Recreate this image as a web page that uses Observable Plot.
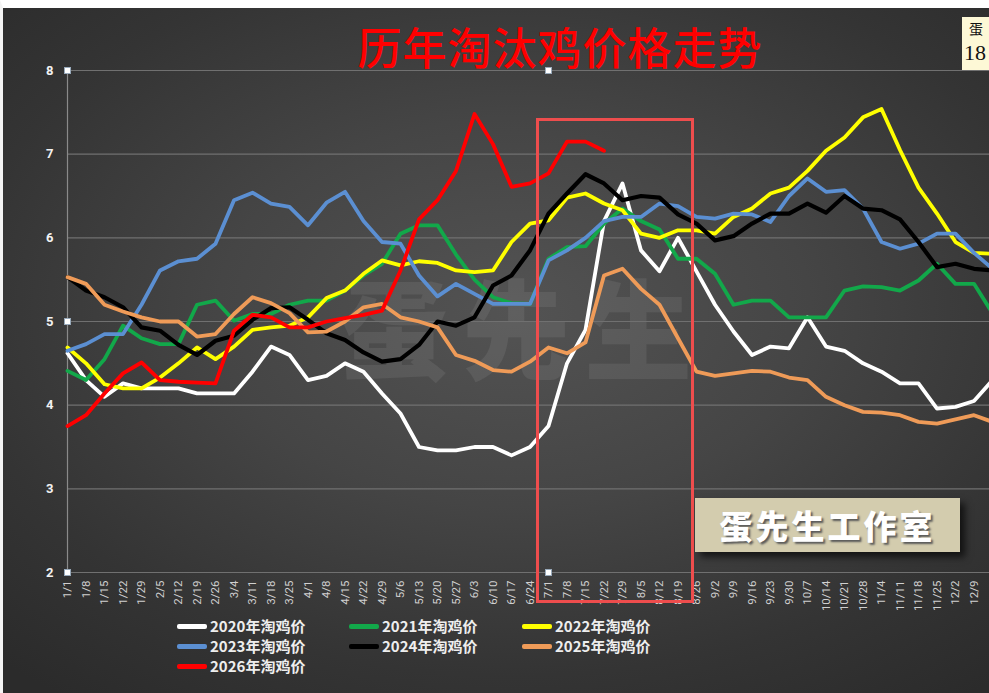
<!DOCTYPE html>
<html><head><meta charset="utf-8">
<script src="https://cdn.jsdelivr.net/npm/d3@7"></script>
<script src="https://cdn.jsdelivr.net/npm/@observablehq/plot@0.6"></script>
<style>
html,body{margin:0;padding:0;width:989px;height:693px;overflow:hidden;}
body{position:relative;background:radial-gradient(ellipse 75% 70% at 52% 45%, #535353 0%, #454545 40%, #343434 75%, #2b2b2b 100%);font-family:"Noto Sans CJK SC","Noto Sans",sans-serif;}
#frame{position:absolute;left:0;top:0;width:989px;height:693px;border-top:8px solid #fff;border-left:3px solid #f4f4f4;box-sizing:border-box;pointer-events:none;z-index:10;}
#title{position:absolute;left:0;width:1120px;top:14px;text-align:center;color:#ff0000;font-size:44px;letter-spacing:1px;font-family:"Noto Sans CJK SC";font-weight:500;}
#watermark{position:absolute;left:340px;top:246px;font-size:108px;font-weight:900;letter-spacing:14px;color:rgba(255,255,255,0.075);font-family:"Noto Sans CJK SC";}
#chart{position:absolute;left:0;top:0;}
#redbox{position:absolute;left:536px;top:118px;width:152px;height:479px;border:3.5px solid #ee4d4d;z-index:5;}
#stamp{position:absolute;left:695px;top:498px;width:265px;height:54px;background:#d3ccae;box-shadow:5px 5px 7px rgba(0,0,0,0.65);text-align:center;line-height:54px;font-size:33px;font-weight:900;color:#ffffff;letter-spacing:3px;text-shadow:2px 2px 2px #5a5a5a;font-family:"Noto Sans CJK SC";z-index:6;}
#corner{position:absolute;left:962px;top:17px;width:27px;height:53px;background:#fdf8d6;color:#111;font-family:"Noto Sans CJK SC",serif;z-index:6;overflow:hidden;}
#corner .a{position:absolute;left:7px;top:1px;font-size:14px;}
#corner .b{position:absolute;left:2px;top:23px;font-size:22px;line-height:26px;font-family:"Liberation Serif",serif;}
.h{position:absolute;width:5px;height:5px;background:#fff;border:1px solid #9ab;z-index:7;}
#legend{position:absolute;left:0;top:0;}
.li{position:absolute;height:20px;line-height:20px;font-size:15px;font-weight:700;color:#eeeeee;white-space:nowrap;}
.li span.sw{display:inline-block;width:30px;height:5px;border-radius:2px;vertical-align:middle;margin-right:3px;position:relative;top:-1px;}
</style></head>
<body>
<div id="frame"></div>
<div id="watermark">蛋先生</div>
<div id="chart"></div>
<div id="title">历年淘汰鸡价格走势</div>
<div id="redbox"></div>
<div id="stamp">蛋先生工作室</div>
<div id="corner"><div class="a">蛋</div><div class="b">18</div></div>
<div id="legend"></div>
<script>
// ---- data ----
const weekLabels = ["1/1","1/8","1/15","1/22","1/29","2/5","2/12","2/19","2/26","3/4","3/11","3/18","3/25","4/1","4/8","4/15","4/22","4/29","5/6","5/13","5/20","5/27","6/3","6/10","6/17","6/24","7/1","7/8","7/15","7/22","7/29","8/5","8/12","8/19","8/26","9/2","9/9","9/16","9/23","9/30","10/7","10/14","10/21","10/28","11/4","11/11","11/18","11/25","12/2","12/9"];
const yTicks = [2,3,4,5,6,7,8];
const seriesNames = ["2020年淘鸡价","2021年淘鸡价","2022年淘鸡价","2023年淘鸡价","2024年淘鸡价","2025年淘鸡价","2026年淘鸡价"];
const seriesColors = ["#ffffff","#12a84a","#ffff00","#5b8fd2","#000000","#ef9b58","#ff0000"];
const s2020 = [4.62,4.3,4.1,4.26,4.2,4.2,4.2,4.14,4.14,4.14,4.4,4.7,4.6,4.3,4.35,4.5,4.4,4.14,3.9,3.5,3.46,3.46,3.5,3.5,3.4,3.5,3.75,4.5,4.9,6.2,6.65,5.85,5.6,6.0,5.6,5.2,4.88,4.6,4.7,4.68,5.05,4.7,4.65,4.5,4.4,4.26,4.26,3.96,3.98,4.05,4.3];
const s2021 = [4.41,4.3,4.55,4.95,4.8,4.73,4.73,5.2,5.25,5.01,5.09,5.09,5.2,5.25,5.25,5.37,5.55,5.69,6.05,6.15,6.15,5.8,5.5,5.29,5.22,5.21,5.75,5.89,5.9,6.17,6.35,6.2,6.1,5.75,5.75,5.57,5.2,5.25,5.25,5.05,5.05,5.05,5.37,5.42,5.41,5.37,5.49,5.69,5.45,5.45,5.1];
const s2022 = [4.69,4.5,4.25,4.2,4.2,4.33,4.5,4.69,4.55,4.7,4.9,4.93,4.95,5.05,5.28,5.37,5.57,5.73,5.67,5.72,5.7,5.61,5.59,5.61,5.95,6.17,6.21,6.48,6.53,6.41,6.33,6.05,6.0,6.09,6.09,6.05,6.25,6.35,6.53,6.6,6.8,7.04,7.2,7.44,7.54,7.05,6.6,6.29,5.95,5.82,5.81];
const s2023 = [4.65,4.73,4.85,4.85,5.2,5.61,5.72,5.75,5.93,6.45,6.54,6.41,6.37,6.15,6.42,6.55,6.2,5.95,5.93,5.55,5.3,5.45,5.33,5.21,5.21,5.21,5.73,5.85,6.0,6.2,6.25,6.25,6.41,6.38,6.25,6.23,6.29,6.28,6.19,6.5,6.71,6.55,6.57,6.35,5.95,5.87,5.93,6.05,6.05,5.82,5.63];
const s2024 = [5.53,5.37,5.29,5.17,4.93,4.89,4.72,4.6,4.77,4.83,5.02,5.16,5.17,5.02,4.86,4.78,4.63,4.52,4.55,4.72,5.0,4.95,5.05,5.43,5.55,5.85,6.29,6.53,6.76,6.65,6.45,6.5,6.48,6.28,6.17,5.97,6.02,6.17,6.29,6.29,6.41,6.3,6.5,6.35,6.33,6.22,5.95,5.65,5.69,5.63,5.61];
const s2025 = [5.53,5.45,5.2,5.12,5.05,5.0,5.0,4.82,4.85,5.09,5.29,5.22,5.1,4.87,4.88,5.0,5.17,5.21,5.05,5.0,4.93,4.6,4.53,4.42,4.4,4.52,4.69,4.62,4.75,5.55,5.63,5.39,5.2,4.8,4.4,4.35,4.38,4.41,4.4,4.33,4.3,4.1,4.0,3.92,3.91,3.88,3.8,3.78,3.83,3.88,3.8];
const s2026 = [3.75,3.88,4.14,4.38,4.51,4.3,4.28,4.27,4.26,4.89,5.08,5.05,4.93,4.93,5.0,5.04,5.08,5.13,5.61,6.22,6.45,6.8,7.48,7.12,6.61,6.65,6.77,7.15,7.15,7.04];
const seriesValues = [s2020,s2021,s2022,s2023,s2024,s2025,s2026];

// ---- chart ----
const lineMarks = seriesValues.map((vals,k) => Plot.line(
  vals.map((v,i) => ({w:i, v})),
  {x:"w", y:"v", stroke:seriesColors[k], strokeWidth: k===4 ? 4.2 : 3.8, strokeLinejoin:"round", strokeLinecap:"round"}
));

const chart = Plot.plot({
  width: 989, height: 693,
  marginTop: 70, marginBottom: 121, marginLeft: 67, marginRight: 0,
  style: {background:"transparent", overflow:"hidden", maxWidth:"none", fontFamily:"Roboto, 'Noto Sans', sans-serif"},
  x: {domain:[0,50], range:[67,992]},
  y: {domain:[2,8], range:[572,70]},
  marks: [
    Plot.ruleY(yTicks, {stroke:"#707070", strokeWidth:1.2}),
    Plot.ruleX([0], {y1:2, y2:8, stroke:"#8a8a8a", strokeWidth:1.2}),
    Plot.axisY(yTicks, {tickSize:0, tickPadding:14, tickFormat:d => String(d), fill:"#f2f2f2", fontSize:13, fontWeight:"bold", label:null}),
    Plot.axisX(d3.range(0, weekLabels.length), {tickSize:0, tickPadding:8, tickRotate:-90, tickFormat:i => weekLabels[i], fill:"#d0d0d0", fontSize:11.5, label:null}),
    ...lineMarks
  ]
});
document.getElementById("chart").appendChild(chart);

// handles
[[67,70],[548,70],[67,321],[67,572],[548,572]].forEach(([x,y]) => {
  const h = document.createElement("div"); h.className = "h";
  h.style.left = (x-3)+"px"; h.style.top = (y-3)+"px";
  document.body.appendChild(h);
});

// legend
const legend = document.getElementById("legend");
const colX = [177,349,522], rowY = [616,636,656];
seriesNames.forEach((name,k) => {
  const d = document.createElement("div"); d.className = "li";
  d.style.left = colX[k%3]+"px"; d.style.top = rowY[Math.floor(k/3)]+"px";
  d.innerHTML = `<span class="sw" style="background:${seriesColors[k]}"></span>${name}`;
  legend.appendChild(d);
});
</script>
</body></html>
